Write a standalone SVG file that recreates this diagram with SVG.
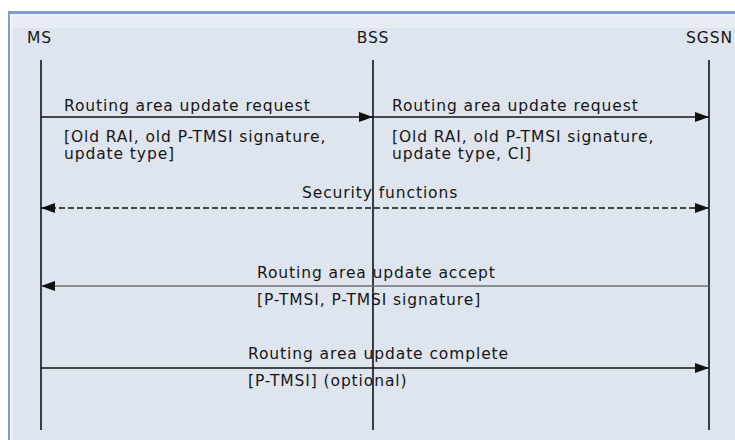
<svg xmlns="http://www.w3.org/2000/svg" width="735" height="440" viewBox="0 0 735 440">
  <style>
    .lbl { font-family: "DejaVu Sans", "Open Sans", sans-serif; font-size: 15.5px; letter-spacing: 0.9px; fill: #161616; }
    .life { stroke: #111; stroke-width: 1.6; }
    .msg { stroke: #111; stroke-width: 1.6; fill: none; }
    .msg-grey { stroke: #707070; stroke-width: 1.6; fill: none; }
    .msg-dash { stroke: #111; stroke-width: 1.6; fill: none; stroke-dasharray: 6 3; }
  </style>
  <defs>
    <marker id="head" viewBox="0 0 14 10" refX="14" refY="5" markerWidth="14" markerHeight="10" markerUnits="userSpaceOnUse" orient="auto-start-reverse">
      <path d="M0,0 L14,5 L0,10 Z" fill="#111"/>
    </marker>
  </defs>

  <!-- page and panel -->
  <rect x="0" y="0" width="735" height="440" fill="#ffffff"/>
  <rect x="8" y="11" width="727" height="429" fill="#7d9fc9"/>
  <rect x="10" y="14" width="725" height="426" fill="#eef1f6"/>
  <rect x="13" y="16" width="722" height="424" fill="#dfe5ee"/>
  <rect x="13" y="16" width="722" height="12" fill="#e7ebf2"/>

  <!-- entities with lifelines -->
  <g id="ms">
    <text class="lbl" x="27" y="43">MS</text>
    <line class="life" x1="41" y1="60" x2="41" y2="430"/>
  </g>
  <g id="bss">
    <text class="lbl" x="373" y="43" text-anchor="middle">BSS</text>
    <line class="life" x1="373" y1="60" x2="373" y2="430"/>
  </g>
  <g id="sgsn">
    <text class="lbl" x="733" y="43" text-anchor="end">SGSN</text>
    <line class="life" x1="709" y1="60" x2="709" y2="430"/>
  </g>

  <!-- messages -->
  <g id="connectors">
    <line class="msg" x1="41" y1="117" x2="373" y2="117" marker-end="url(#head)"/>
    <line class="msg" x1="373" y1="117" x2="709" y2="117" marker-end="url(#head)"/>
    <line class="msg-dash" x1="41" y1="208" x2="709" y2="208" marker-start="url(#head)" marker-end="url(#head)"/>
    <line class="msg-grey" x1="709" y1="286" x2="41" y2="286" marker-end="url(#head)"/>
    <line class="msg" x1="41" y1="368" x2="709" y2="368" marker-end="url(#head)"/>
  </g>

  <!-- message labels -->
  <g id="label-req1">
    <text class="lbl" x="64" y="111">Routing area update request</text>
    <text class="lbl" x="64" y="142">[Old RAI, old P-TMSI signature,</text>
    <text class="lbl" x="64" y="159">update type]</text>
  </g>
  <g id="label-req2">
    <text class="lbl" x="392" y="111">Routing area update request</text>
    <text class="lbl" x="392" y="142">[Old RAI, old P-TMSI signature,</text>
    <text class="lbl" x="392" y="159">update type, CI]</text>
  </g>
  <g id="label-security">
    <text class="lbl" x="302" y="198">Security functions</text>
  </g>
  <g id="label-accept">
    <text class="lbl" x="257" y="278">Routing area update accept</text>
    <text class="lbl" x="257" y="305">[P-TMSI, P-TMSI signature]</text>
  </g>
  <g id="label-complete">
    <text class="lbl" x="248" y="359">Routing area update complete</text>
    <text class="lbl" x="248" y="386">[P-TMSI] (optional)</text>
  </g>
</svg>
